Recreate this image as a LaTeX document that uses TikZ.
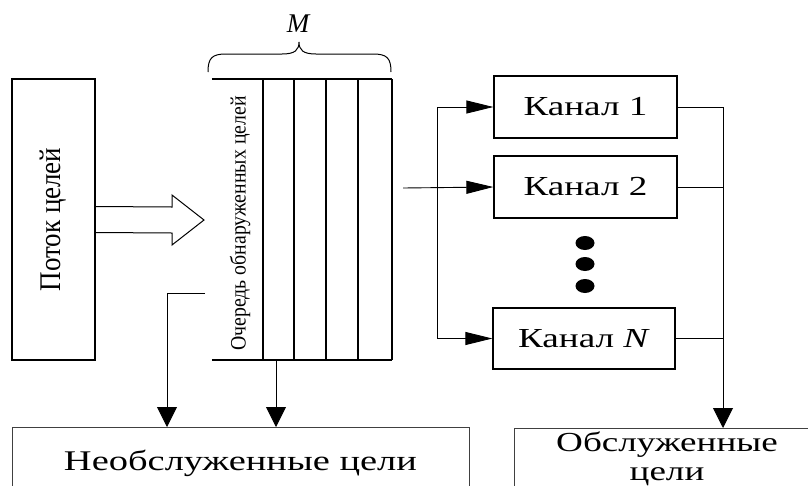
\documentclass[tikz,border=0pt]{standalone}
\usepackage{fontspec}
\setmainfont{Liberation Serif}
\newfontfamily\widefont[FakeStretch=1.35]{Liberation Serif}
\newfontfamily\narrowfont[FakeStretch=0.9]{Liberation Serif}
\usetikzlibrary{arrows.meta,calc}
\begin{document}
\begin{tikzpicture}[x=1pt,y=-1pt,
  boxthick/.style={draw,line width=1.6pt,minimum width=83pt,minimum height=281pt,inner sep=0pt},
  chbox/.style={draw,line width=1.3pt,minimum width=183pt,minimum height=62pt,inner sep=0pt,
    font=\widefont\fontsize{27.5}{30}\selectfont},
  outbox/.style={draw=black!75,line width=1pt,inner sep=0pt},
  conn/.style={line width=0.9pt},
  bigtip/.style={conn,-{Triangle[length=20pt,width=20pt]}},
  slimtip/.style={conn,-{Triangle[length=27pt,width=13pt]}},
  qline/.style={line width=1.8pt}]
\useasboundingbox (0,0) rectangle (808,485);

% source of targets
\node[boxthick] (src) at (53.5,219.5) {};
\node[rotate=90,font=\narrowfont\fontsize{30}{32}\selectfont] (srctxt) at (src.center) {Поток целей};

% hollow block arrow into the queue
\draw[line width=1pt] ($(src.east)+(0,-13)$) -- (172,207) -- (172,195) -- (204,220)
  -- (172,245) -- (172,233) -- ($(src.east)+(0,13)$);

% queue of detected targets
\node[minimum width=180pt,minimum height=281pt,inner sep=0pt] (queue) at (302,219.5) {};
\draw[qline] (queue.north west) -- (queue.north east);
\draw[qline] (queue.south west) -- (queue.south east);
\foreach \xq in {263,294,326,358,392}
  \draw[qline] (\xq,79) -- (\xq,360);
\node[rotate=90,font=\narrowfont\fontsize{22}{24}\selectfont] (qtxt) at (240,223.5) {Очередь обнаруженных целей};

% capacity brace
\draw[line width=1pt] (208,72) .. controls (208,58) and (212,54) .. (226,54) -- (282,54)
  .. controls (295,54) and (299,50) .. (299,42)
  .. controls (299,50) and (303,54) .. (316,54) -- (373,54)
  .. controls (387,54) and (391,58) .. (391,72);
\node[font=\fontsize{27}{28}\selectfont\itshape] (mlab) at (298,24) {M};

% channels
\node[chbox] (ch1) at (585.5,107) {Канал 1};
\node[chbox] (ch2) at (585.5,187) {Канал 2};
\node[chbox,minimum width=182pt,minimum height=61pt] (chN) at (584,338.5) {Канал \textit{N}};
\foreach \yd in {243,264,286}
  \fill (585,\yd) ellipse [x radius=9.5pt,y radius=7pt];

% outcome boxes
\node[outbox,minimum width=457pt,minimum height=72pt,anchor=north,
  font=\widefont\fontsize{28.5}{30}\selectfont] (unserved) at (240.5,427) {Необслуженные цели};
\node[outbox,minimum width=320pt,minimum height=80pt,anchor=north west] (served) at (514,428) {};
\node[align=center,font=\widefont\fontsize{27.5}{29}\selectfont,inner sep=0pt] (servedtxt) at (667,458.5)
  {Обслуженные\\цели};

% helper points
\coordinate (qout) at (205,293);
\coordinate (u1) at (167,427);
\coordinate (qbot) at (276,360);
\coordinate (qright) at (403,188);
\coordinate (busx) at (437,200);
\coordinate (outx) at (723,200);

% queue to unserved
\draw[bigtip] (qout) -| (u1);
\draw[bigtip] (qbot) -- (qbot |- unserved.north);

% dispatch to channels
\draw[conn] (busx |- ch1.west) -- (busx |- chN.west);
\draw[slimtip] (busx |- ch1.west) -- (ch1.west);
\draw[slimtip] (qright) -- (ch2.west);
\draw[slimtip] (busx |- chN.west) -- (chN.west);

% channels to served
\draw[conn] (ch1.east) -- (outx |- ch1.east);
\draw[conn] (ch2.east) -- (outx |- ch2.east);
\draw[conn] (chN.east) -- (outx |- chN.east);
\draw[bigtip] (outx |- ch1.east) -- (outx |- served.north);
\end{tikzpicture}
\end{document}
